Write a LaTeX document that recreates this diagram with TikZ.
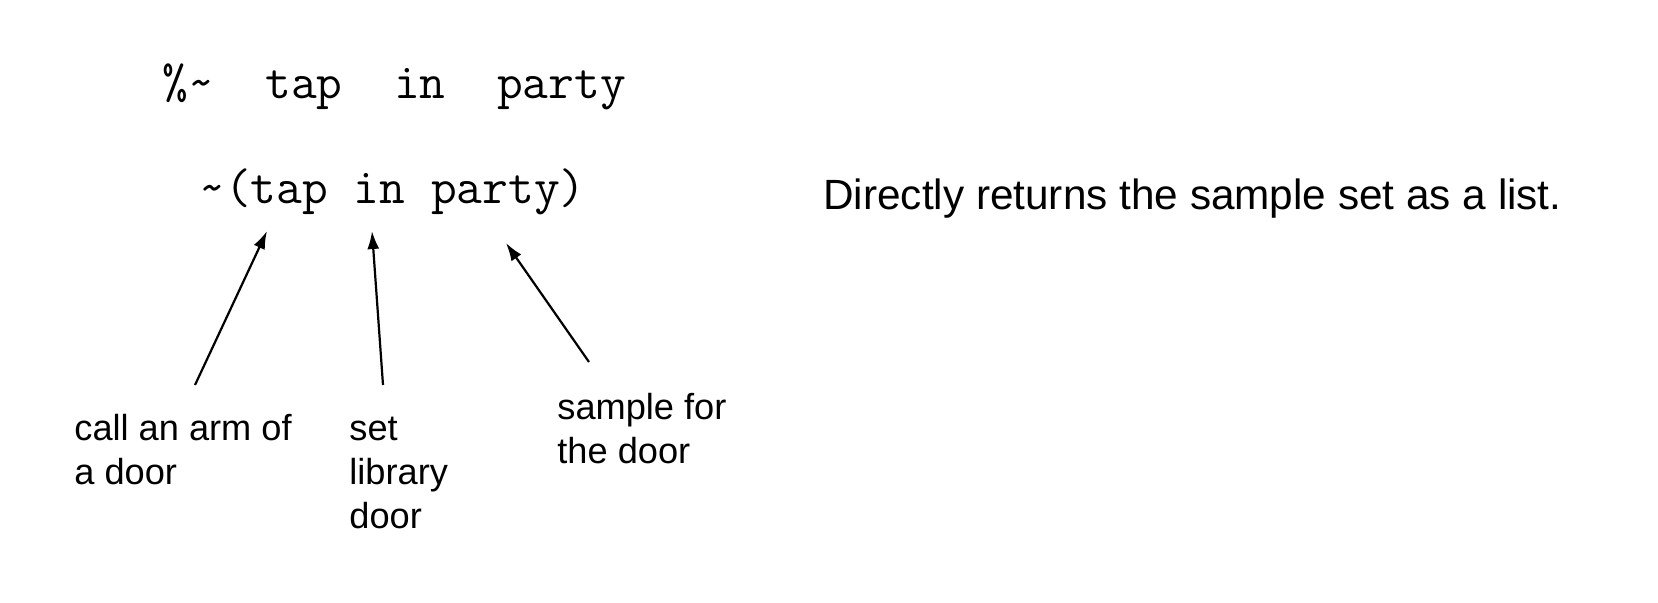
\documentclass[tikz,border=0pt]{standalone}
\usepackage{fontspec}
\setmainfont{Liberation Sans}
\usetikzlibrary{arrows.meta}

\begin{document}
\begin{tikzpicture}[x=0.5pt,y=-0.5pt,
    code/.style={inner sep=0pt,anchor=base west,font=\ttfamily\fontsize{25}{30}\selectfont},
    note/.style={inner sep=0pt,anchor=base west,align=left,font=\fontsize{18.1}{22}\selectfont},
    arr/.style={-{Latex[length=9pt,width=6pt]},line width=1.1pt}]
\useasboundingbox (0,0) rectangle (1658,602);
% code lines
\node[code] (cmd) at (162,98) {\%\textasciitilde\ \ tap\ \ in\ \ party};
\node[code] (expr) at (199,203) {\textasciitilde(tap in party)};
\node[inner sep=0pt,anchor=base west,font=\fontsize{21.15}{25}\selectfont] (desc) at (823,209) {Directly returns the sample set as a list.};
% labels (base = last line)
\node[note] (arm) at (74,484) {call an arm of\\a door};
\node[note] (lib) at (349,528) {set\\library\\door};
\node[note] (smp) at (557,463) {sample for\\the door};
% arrows
\coordinate (armfoot) at (195,385);
\coordinate (armtip) at (267,231);
\coordinate (libfoot) at (383,385);
\coordinate (libtip) at (372,231);
\coordinate (smpfoot) at (589,362);
\coordinate (smptip) at (506,243);
\draw[arr] (armfoot) -- (armtip);
\draw[arr] (libfoot) -- (libtip);
\draw[arr] (smpfoot) -- (smptip);
\end{tikzpicture}
\end{document}
